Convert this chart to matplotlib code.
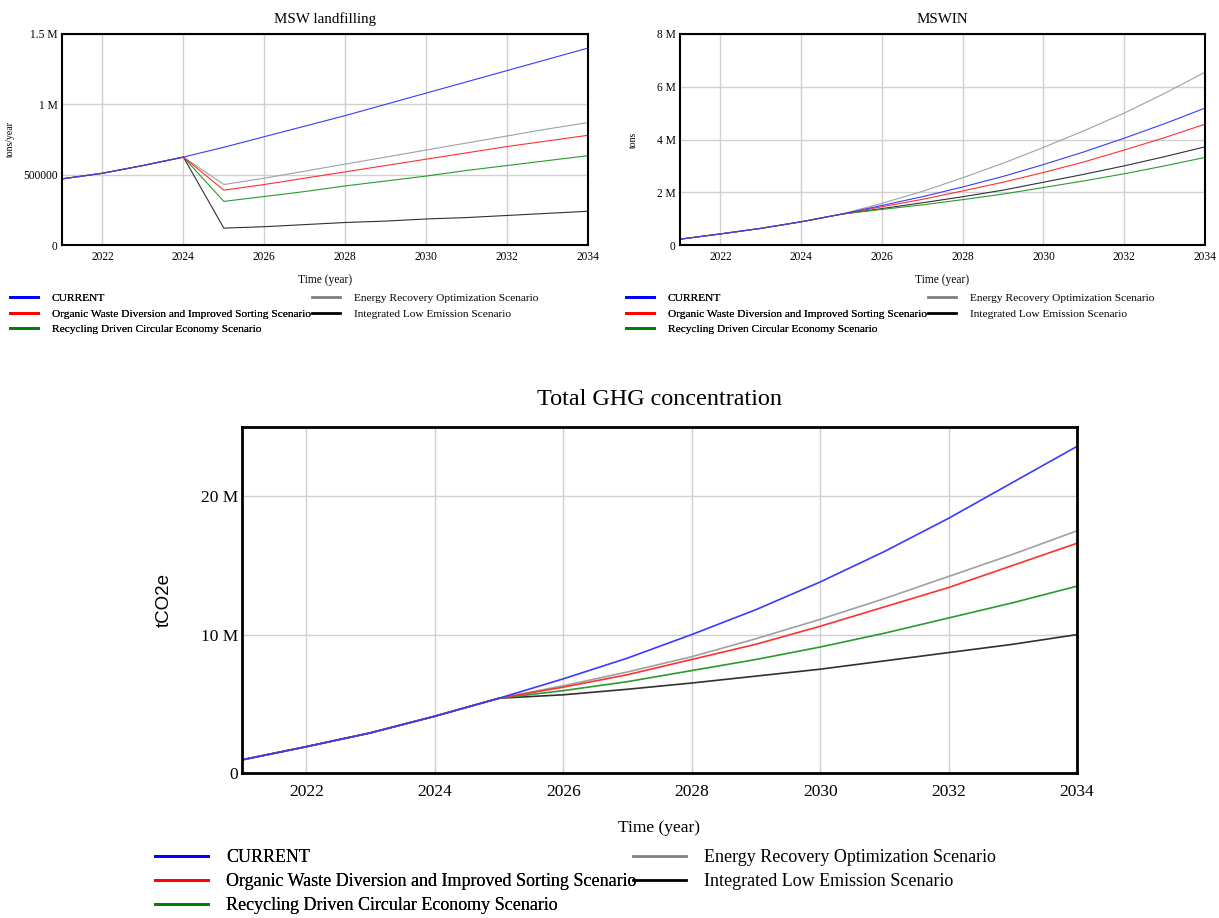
import matplotlib
matplotlib.use("Agg")
import matplotlib.pyplot as plt
from matplotlib.lines import Line2D

plt.rcParams['font.family'] = ['Liberation Serif', 'DejaVu Serif']

years = list(range(2021, 2035))
scenarios = ["CURRENT",
             "Organic Waste Diversion and Improved Sorting Scenario",
             "Recycling Driven Circular Economy Scenario",
             "Energy Recovery Optimization Scenario",
             "Integrated Low Emission Scenario"]
colors = ["#3a3aff", "#ff3030", "#2a9a2a", "#a0a0a0", "#303030"]
legend_colors = ["#0000ff", "#ff0000", "#008000", "#808080", "#000000"]

# MSW landfilling (tons/year), 2021-2034
landfill_current = [0.47e6, 0.51e6, 0.565e6, 0.625e6, 0.695e6, 0.77e6, 0.845e6, 0.92e6, 1.0e6,
                    1.08e6, 1.16e6, 1.24e6, 1.32e6, 1.40e6]
landfill_organic = [0.47e6, 0.51e6, 0.565e6, 0.625e6, 0.39e6, 0.43e6, 0.475e6, 0.52e6, 0.565e6,
                    0.61e6, 0.655e6, 0.70e6, 0.74e6, 0.78e6]
landfill_recycling = [0.47e6, 0.51e6, 0.565e6, 0.625e6, 0.31e6, 0.345e6, 0.38e6, 0.42e6, 0.455e6,
                      0.49e6, 0.53e6, 0.565e6, 0.60e6, 0.635e6]
landfill_energy = [0.47e6, 0.51e6, 0.565e6, 0.625e6, 0.43e6, 0.475e6, 0.525e6, 0.575e6, 0.625e6,
                   0.675e6, 0.725e6, 0.775e6, 0.825e6, 0.87e6]
landfill_integrated = [0.47e6, 0.51e6, 0.565e6, 0.625e6, 0.12e6, 0.13e6, 0.145e6, 0.16e6, 0.17e6,
                       0.185e6, 0.195e6, 0.21e6, 0.225e6, 0.24e6]

# MSWIN (tons), 2021-2034
mswin_current = [0.22e6, 0.42e6, 0.63e6, 0.88e6, 1.17e6, 1.5e6, 1.83e6, 2.2e6, 2.6e6,
                 3.05e6, 3.53e6, 4.05e6, 4.6e6, 5.19e6]
mswin_organic = [0.22e6, 0.42e6, 0.63e6, 0.88e6, 1.17e6, 1.45e6, 1.73e6, 2.05e6, 2.38e6,
                 2.75e6, 3.15e6, 3.6e6, 4.07e6, 4.58e6]
mswin_recycling = [0.22e6, 0.42e6, 0.63e6, 0.88e6, 1.17e6, 1.35e6, 1.52e6, 1.72e6, 1.93e6,
                   2.18e6, 2.43e6, 2.7e6, 3.0e6, 3.32e6]
mswin_energy = [0.22e6, 0.42e6, 0.63e6, 0.88e6, 1.17e6, 1.58e6, 2.03e6, 2.55e6, 3.1e6,
                3.7e6, 4.33e6, 5.0e6, 5.75e6, 6.55e6]
mswin_integrated = [0.22e6, 0.42e6, 0.63e6, 0.88e6, 1.17e6, 1.38e6, 1.6e6, 1.83e6, 2.08e6,
                    2.38e6, 2.68e6, 3.0e6, 3.35e6, 3.72e6]

# Total GHG concentration (tCO2e), 2021-2034
ghg_current = [0.95e6, 1.9e6, 2.9e6, 4.1e6, 5.4e6, 6.8e6, 8.3e6, 10.0e6, 11.8e6,
               13.8e6, 16.0e6, 18.4e6, 21.0e6, 23.6e6]
ghg_organic = [0.95e6, 1.9e6, 2.9e6, 4.1e6, 5.4e6, 6.2e6, 7.1e6, 8.2e6, 9.3e6,
               10.6e6, 12.0e6, 13.4e6, 15.0e6, 16.6e6]
ghg_recycling = [0.95e6, 1.9e6, 2.9e6, 4.1e6, 5.4e6, 5.95e6, 6.6e6, 7.4e6, 8.2e6,
                 9.1e6, 10.1e6, 11.2e6, 12.3e6, 13.5e6]
ghg_energy = [0.95e6, 1.9e6, 2.9e6, 4.1e6, 5.4e6, 6.3e6, 7.3e6, 8.4e6, 9.7e6,
              11.1e6, 12.6e6, 14.2e6, 15.8e6, 17.5e6]
ghg_integrated = [0.95e6, 1.9e6, 2.9e6, 4.1e6, 5.4e6, 5.65e6, 6.05e6, 6.5e6, 7.0e6,
                  7.5e6, 8.1e6, 8.7e6, 9.3e6, 10.0e6]

xticks = [2022, 2024, 2026, 2028, 2030, 2032, 2034]

W, H = 1219, 918
fig = plt.figure(figsize=(W / 100, H / 100), dpi=100)


def box(x0, y0, x1, y1):
    return [x0 / W, 1 - y1 / H, (x1 - x0) / W, (y1 - y0) / H]


def panel(rect, series, title, ylabel, ylim, yticks, ylabels, fs, title_fs, lw, frame_lw,
          title_pad, tick_pad, xlabel_pad, ylabel_pad, ylabel_family, ylabel_fs):
    ax = fig.add_axes(rect)
    for i in [4, 3, 2, 1, 0]:
        ax.plot(years, series[i], color=colors[i], lw=lw)
    ax.set_xlim(2021, 2034)
    ax.set_ylim(*ylim)
    ax.set_xticks(xticks)
    ax.set_yticks(yticks)
    ax.set_yticklabels(ylabels)
    ax.tick_params(length=0, labelsize=fs)
    ax.tick_params(axis="x", pad=tick_pad)
    ax.tick_params(axis="y", pad=3)
    ax.grid(True, color="#d0d0d0", lw=1)
    ax.set_axisbelow(True)
    for s in ax.spines.values():
        s.set_linewidth(frame_lw)
        s.set_color("black")
    ax.set_title(title, fontsize=title_fs, pad=title_pad)
    ax.set_xlabel("Time (year)", fontsize=fs, labelpad=xlabel_pad)
    ax.set_ylabel(ylabel, fontsize=ylabel_fs, labelpad=ylabel_pad, family=ylabel_family)
    return ax


def add_legend(x0, y0, x1, fs, hl, pad, spacing):
    h = [Line2D([], [], color=c, lw=2) for c in legend_colors]
    kw = dict(loc="upper left", frameon=False, fontsize=fs, handlelength=hl,
              handletextpad=pad, labelspacing=spacing, borderpad=0, borderaxespad=0)
    l1 = fig.legend(h[:3], scenarios[:3], bbox_to_anchor=(x0 / W, 1 - y0 / H), **kw)
    fig.legend(h[3:], scenarios[3:], bbox_to_anchor=(x1 / W, 1 - y0 / H), **kw)
    fig.add_artist(l1)


panel(box(62, 34, 588, 245),
      [landfill_current, landfill_organic, landfill_recycling, landfill_energy, landfill_integrated],
      "MSW landfilling", "tons/year", (0, 1.5e6), [0, 0.5e6, 1e6, 1.5e6],
      ["0", "500000", "1 M", "1.5 M"], 8.3, 10.8, 0.8, 1.5, 8, 4, 8, 6,
      "Liberation Serif", 7)
add_legend(10, 293, 312, 8.2, 2.45, 1.2, 0.5)

panel(box(680, 34, 1205, 245),
      [mswin_current, mswin_organic, mswin_recycling, mswin_energy, mswin_integrated],
      "MSWIN", "tons", (0, 8e6), [0, 2e6, 4e6, 6e6, 8e6],
      ["0", "2 M", "4 M", "6 M", "8 M"], 8.3, 10.8, 0.8, 1.5, 8, 4, 8, 14,
      "Liberation Serif", 7)
add_legend(626, 293, 928, 8.2, 2.45, 1.2, 0.5)

panel(box(242, 427, 1077, 773),
      [ghg_current, ghg_organic, ghg_recycling, ghg_energy, ghg_integrated],
      "Total GHG concentration", "tCO2e", (0, 25e6), [0, 10e6, 20e6],
      ["0", "10 M", "20 M"], 12.5, 17.4, 1.2, 2, 16, 8, 14, 20,
      "Liberation Sans", 13.5)
add_legend(155, 849, 633, 13.0, 2.95, 1.0, 0.4)

fig.savefig("out.png", dpi=100, facecolor="white")
